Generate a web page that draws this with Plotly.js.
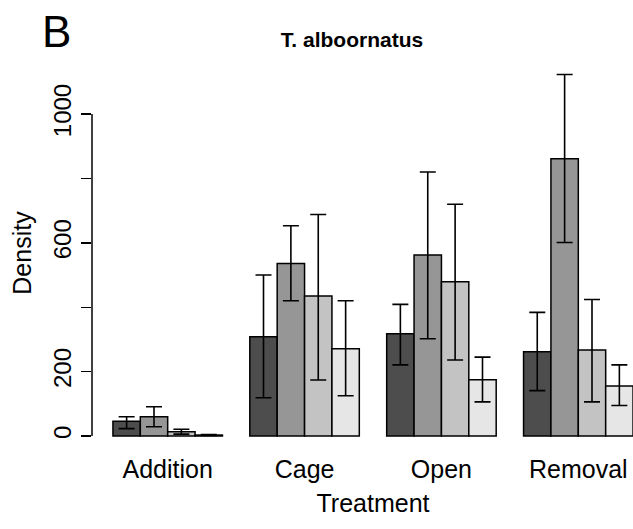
<!DOCTYPE html>
<html>
<head>
<meta charset="utf-8">
<script src="https://cdn.plot.ly/plotly-3.0.1.min.js"></script>
<style>
  html, body { margin: 0; padding: 0; background: #ffffff; overflow: hidden; }
  #chart { width: 654px; height: 529px; }
</style>
</head>
<body>
<div id="chart"></div>
<script>
// Treatments on the x axis
const treatments = ['Addition', 'Cage', 'Open', 'Removal'];

// Mean density for each of the four series, per treatment
const series1 = [46, 308, 318, 262];
const series2 = [60, 536, 562, 861];
const series3 = [13.5, 435, 479, 267];
const series4 = [3, 271, 175, 155];

// Upper and lower ends of the error bars
const upper1 = [60, 500, 409, 384];
const lower1 = [23, 119, 221, 141];
const upper2 = [91, 653, 820, 1123];
const lower2 = [29, 420, 302, 601];
const upper3 = [21, 688, 720, 424];
const lower3 = [6, 174, 236, 106];
const upper4 = [4.5, 420, 245, 221];
const lower4 = [1.5, 125, 106, 95];

// Fill colours, dark to light grey
const fills = ['#4D4D4D', '#969696', '#C3C3C3', '#E6E6E6'];

// Y ticks: every 200, with only some labelled
const yTickVals = [0, 200, 400, 600, 800, 1000];
const yTickText = ['0', '200', '', '600', '', '1000'];

const FONT = 'Liberation Sans, Arial, Helvetica, sans-serif';

const means = [series1, series2, series3, series4];
const uppers = [upper1, upper2, upper3, upper4];
const lowers = [lower1, lower2, lower3, lower4];

const traces = means.map((m, i) => ({
  type: 'bar',
  x: treatments,
  y: m,
  name: 'Series ' + (i + 1),
  marker: { color: fills[i], line: { color: '#000000', width: 1.5 } },
  error_y: {
    type: 'data',
    symmetric: false,
    array: m.map((v, j) => uppers[i][j] - v),
    arrayminus: m.map((v, j) => v - lowers[i][j]),
    color: '#000000',
    thickness: 1.6,
    width: 8
  },
  hoverinfo: 'x+y'
}));

// The plotting region runs slightly past the right edge of the page,
// so the last bar sits right at the visible border.
const layout = {
  width: 654,
  height: 529,
  margin: { l: 92, r: 0, t: 60, b: 83 },
  paper_bgcolor: '#ffffff',
  plot_bgcolor: '#ffffff',
  showlegend: false,
  barmode: 'group',
  bargap: 0.2,
  bargroupgap: 0,
  font: { family: FONT, color: '#000000', size: 24 },
  title: {
    text: '<b>T. alboornatus</b>',
    font: { family: FONT, size: 21, color: '#000000' },
    xref: 'paper', x: 0.4626, xanchor: 'center',
    yref: 'container', y: 1 - 40 / 529, yanchor: 'middle'
  },
  xaxis: {
    type: 'category',
    range: [-0.553, 3.553],
    showline: false,
    showgrid: false,
    zeroline: false,
    ticks: '',
    tickfont: { family: FONT, size: 25, color: '#000000' },
    ticklabelstandoff: 6,
    title: { text: 'Treatment', font: { family: FONT, size: 25, color: '#000000' }, standoff: 12 }
  },
  yaxis: {
    range: [-31, 1168],
    showline: false,
    showgrid: false,
    zeroline: false,
    tickmode: 'array',
    tickvals: yTickVals,
    ticktext: yTickText,
    ticks: 'outside',
    ticklen: 10,
    tickwidth: 1.5,
    tickcolor: '#000000',
    tickangle: -90,
    tickfont: { family: FONT, size: 24, color: '#000000' },
    title: { text: 'Density', font: { family: FONT, size: 25, color: '#000000' }, standoff: 10 }
  },
  shapes: [{
    // y axis line spanning the labelled tick range only
    type: 'line', xref: 'paper', yref: 'y',
    x0: 0, x1: 0,
    y0: Math.min(...yTickVals), y1: Math.max(...yTickVals),
    line: { color: '#000000', width: 1.5 }
  }],
  annotations: [{
    text: 'B', xref: 'paper', yref: 'paper',
    x: -0.0925, xanchor: 'left',
    y: 1.075, yanchor: 'middle',
    showarrow: false,
    font: { family: FONT, size: 44, color: '#000000' }
  }]
};

Plotly.newPlot('chart', traces, layout, { staticPlot: true, displayModeBar: false });
</script>
</body>
</html>
